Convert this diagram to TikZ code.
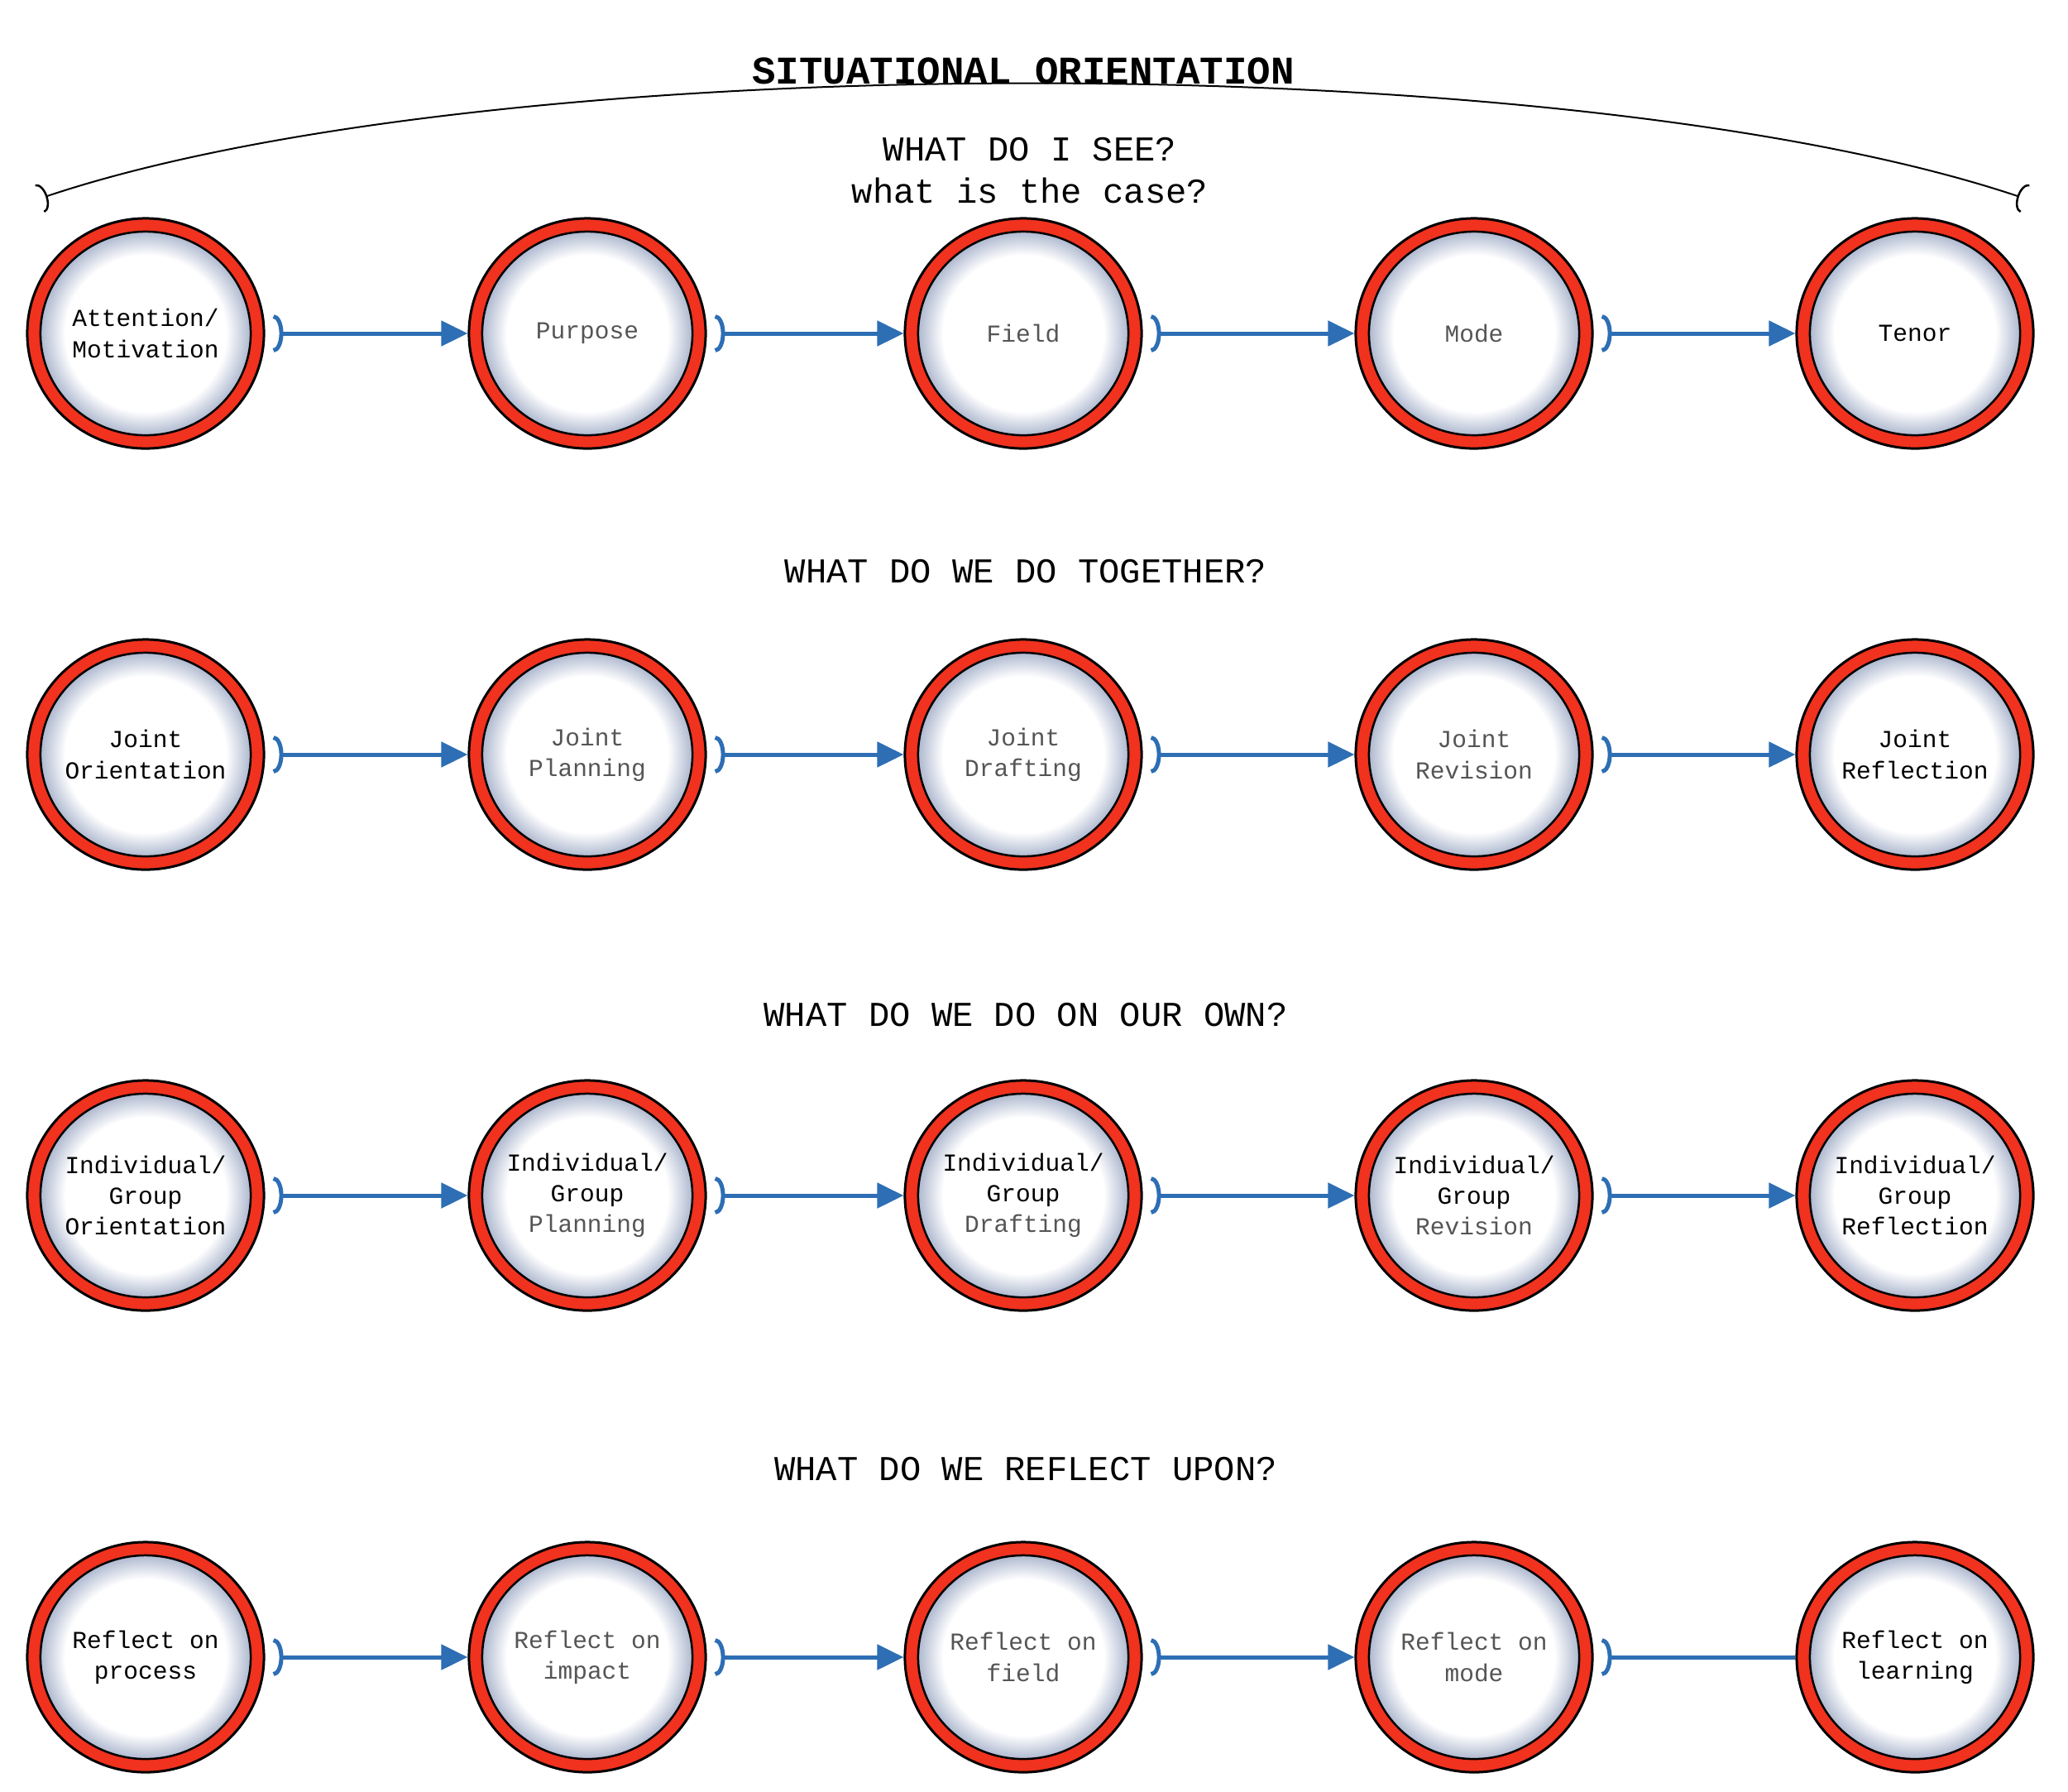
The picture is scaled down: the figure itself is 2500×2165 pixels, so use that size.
\documentclass[tikz,border=0pt]{standalone}
\usepackage{fontspec}
\setmonofont{Liberation Mono}
\usetikzlibrary{shapes.geometric,arrows.meta}
\definecolor{spk}{RGB}{60,85,140}
\definecolor{ringred}{RGB}{240,50,30}
\definecolor{conblue}{RGB}{45,110,180}
\definecolor{gtext}{RGB}{85,85,85}
\pgfdeclareradialshading{ringshade}{\pgfpoint{0bp}{0bp}}{color(0bp)=(white); color(17bp)=(white); color(22bp)=(spk!40); color(25bp)=(spk!80); color(50bp)=(spk!80)}
\begin{document}
\begin{tikzpicture}[x=0.01cm,y=-0.01cm,
  ring/.style={ellipse, draw=black, line width=0.03cm, fill=ringred, minimum width=2.86cm, minimum height=2.78cm, inner sep=0pt, align=center, font=\ttfamily\fontsize{8.4}{10.6}\selectfont,
    path picture={\shade[shading=ringshade] (path picture bounding box.center) ellipse [x radius=1.27cm, y radius=1.23cm];
      \draw[line width=0.025cm] (path picture bounding box.center) ellipse [x radius=1.27cm, y radius=1.23cm];}},
  conn/.style={draw=conblue, line width=0.05cm, {Arc Barb[reversed,length=0.12cm,width=0.46cm,line width=0.05cm]}-{Triangle[length=0.32cm,width=0.3cm]}},
  connend/.style={draw=conblue, line width=0.05cm, {Arc Barb[reversed,length=0.12cm,width=0.46cm,line width=0.05cm]}-},
  head/.style={font=\ttfamily\fontsize{12}{14.6}\selectfont, align=center}]
\useasboundingbox (0,0) rectangle (2500,2165);
\coordinate (arcL) at (48,240);
\coordinate (arcR) at (2448,240);
\draw[line width=0.02cm, {Arc Barb[reversed,length=0.1cm,width=0.36cm,line width=0.025cm]}-{Arc Barb[reversed,length=0.1cm,width=0.36cm,line width=0.025cm]}] (arcL) .. controls (600,55) and (1896,55) .. (arcR);
\node[font=\ttfamily\bfseries\fontsize{13.5}{16}\selectfont] (title) at (1237,86) {SITUATIONAL ORIENTATION};
\node[head] (h1) at (1245,206) {WHAT DO I SEE?\\what is the case?};
\node[head] (h2) at (1240,691) {WHAT DO WE DO TOGETHER?};
\node[head] (h3) at (1240,1227) {WHAT DO WE DO ON OUR OWN?};
\node[head] (h4) at (1240,1776) {WHAT DO WE REFLECT UPON?};
% row 1
\node[ring] (a1) at (176,403) {Attention/\\Motivation};
\node[ring,text=gtext] (a2) at (710,403) {Purpose};
\node[ring,text=gtext] (a3) at (1237,403) {Field};
\node[ring,text=gtext] (a4) at (1782,403) {Mode};
\node[ring] (a5) at (2315,403) {Tenor};
% row 2
\node[ring] (b1) at (176,912) {Joint\\Orientation};
\node[ring,text=gtext] (b2) at (710,912) {Joint\\Planning};
\node[ring,text=gtext] (b3) at (1237,912) {Joint\\Drafting};
\node[ring,text=gtext] (b4) at (1782,912) {Joint\\Revision};
\node[ring] (b5) at (2315,912) {Joint\\Reflection};
% row 3
\node[ring] (c1) at (176,1445) {Individual/\\Group\\Orientation};
\node[ring] (c2) at (710,1445) {Individual/\\Group\\\textcolor{gtext}{Planning}};
\node[ring] (c3) at (1237,1445) {Individual/\\Group\\\textcolor{gtext}{Drafting}};
\node[ring] (c4) at (1782,1445) {Individual/\\Group\\\textcolor{gtext}{Revision}};
\node[ring] (c5) at (2315,1445) {Individual/\\Group\\Reflection};
% row 4
\node[ring] (d1) at (176,2003) {Reflect on\\process};
\node[ring,text=gtext] (d2) at (710,2003) {Reflect on\\impact};
\node[ring,text=gtext] (d3) at (1237,2003) {Reflect on\\field};
\node[ring,text=gtext] (d4) at (1782,2003) {Reflect on\\mode};
\node[ring] (d5) at (2315,2003) {Reflect on\\learning};
\foreach \r in {a,b,c} {
  \foreach \i/\j in {1/2,2/3,3/4,4/5} {
    \draw[conn] ([xshift=0.1cm]\r\i.east) -- (\r\j.west);
  }
}
\foreach \i/\j in {1/2,2/3,3/4} {
  \draw[conn] ([xshift=0.1cm]d\i.east) -- (d\j.west);
}
\draw[connend] ([xshift=0.1cm]d4.east) -- (d5.west);
\end{tikzpicture}
\end{document}
